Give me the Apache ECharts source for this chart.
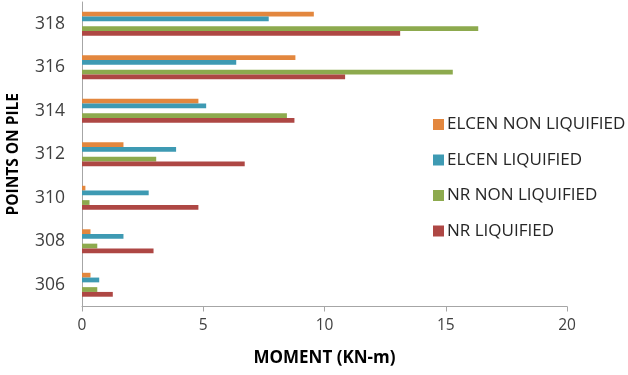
<!DOCTYPE html>
<html>
<head>
<meta charset="utf-8">
<script src="https://cdn.jsdelivr.net/npm/echarts@6/dist/echarts.min.js"></script>
<style>
  html, body { margin: 0; padding: 0; background: #fff; }
  #chart { width: 628px; height: 375px; }
</style>
</head>
<body>
<div id="chart"></div>
<script>
// Points along the pile (bottom to top on the axis)
const points = ['306', '308', '310', '312', '314', '316', '318'];

// Bending moment (KN-m) at each point
const nrLiquified       = [1.27, 2.95, 4.80, 6.71, 8.76, 10.85, 13.12];
const nrNonLiquified    = [0.63, 0.63, 0.31, 3.06, 8.45, 15.29, 16.34];
const elcenLiquified    = [0.71, 1.71, 2.75, 3.88, 5.12, 6.36, 7.70];
const elcenNonLiquified = [0.35, 0.35, 0.14, 1.71, 4.80, 8.80, 9.56];

const xTicks = { min: 0, max: 20, step: 5 };

const colors = {
  elcenNon: '#E3873E',
  elcenLiq: '#3E9AB3',
  nrNon: '#8DAA4E',
  nrLiq: '#AE4744'
};

const font = '"Open Sans", Lato, sans-serif';
const chart = echarts.init(document.getElementById('chart'), null, { renderer: 'canvas' });

function barSeries(name, data, color) {
  return { name, type: 'bar', data, itemStyle: { color }, barGap: '0%', barCategoryGap: '45%' };
}

chart.setOption({
  animation: false,
  textStyle: { fontFamily: font },
  grid: { left: 82, right: 61, top: 2, bottom: 68.5, containLabel: false, outerBoundsMode: 'none' },
  legend: {
    orient: 'vertical',
    left: 428,
    top: 111,
    itemWidth: 11,
    itemHeight: 11,
    itemGap: 18.5,
    icon: 'rect',
    data: ['ELCEN NON LIQUIFIED', 'ELCEN LIQUIFIED', 'NR NON LIQUIFIED', 'NR LIQUIFIED'],
    textStyle: { fontFamily: font, fontSize: 17, color: '#262626', padding: [0, 0, 0, -2] }
  },
  xAxis: {
    type: 'value',
    min: xTicks.min,
    max: xTicks.max,
    interval: xTicks.step,
    name: 'MOMENT (KN-m)',
    nameLocation: 'middle',
    nameGap: 43,
    nameTextStyle: { fontFamily: font, fontSize: 17, fontWeight: 'bold', color: '#000' },
    axisLine: { show: true, lineStyle: { color: '#A6A6A6', width: 1 } },
    axisTick: { show: true, length: 5, lineStyle: { color: '#A6A6A6' } },
    axisLabel: { fontSize: 15.5, color: '#404040', margin: 11 },
    splitLine: { show: false }
  },
  yAxis: {
    type: 'category',
    data: points,
    name: 'POINTS ON PILE',
    nameLocation: 'middle',
    nameGap: 60,
    nameTextStyle: { fontFamily: font, fontSize: 15.5, fontWeight: 'bold', color: '#000' },
    axisLine: { show: true, lineStyle: { color: '#A6A6A6', width: 1 } },
    axisTick: { show: false },
    axisLabel: { fontSize: 17.5, color: '#404040', margin: 17 },
    splitLine: { show: false }
  },
  // within each point the first series sits on top
  series: [
    barSeries('ELCEN NON LIQUIFIED', elcenNonLiquified, colors.elcenNon),
    barSeries('ELCEN LIQUIFIED', elcenLiquified, colors.elcenLiq),
    // unused slot that keeps the gap between the ELCEN and NR pairs
    barSeries('', points.map(() => '-'), 'transparent'),
    barSeries('NR NON LIQUIFIED', nrNonLiquified, colors.nrNon),
    barSeries('NR LIQUIFIED', nrLiquified, colors.nrLiq)
  ]
});
</script>
</body>
</html>
